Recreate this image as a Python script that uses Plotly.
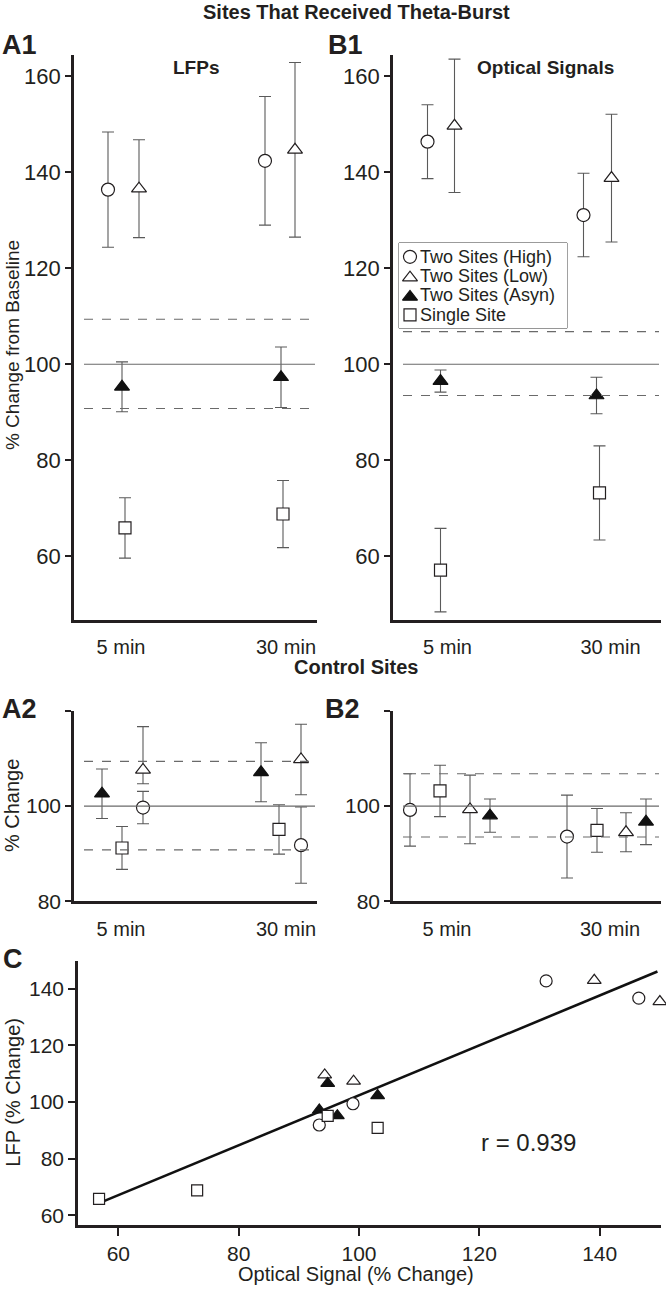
import plotly.graph_objects as go

# ---------------- data ----------------
times = ["5 min", "30 min"]
groups = ["Two Sites (High)", "Two Sites (Low)", "Two Sites (Asyn)", "Single Site"]

# A1: LFPs, sites that received theta-burst (mean, +/- error)
a1_high = [136.4, 142.4]
a1_high_err = [12.0, 13.4]
a1_low = [136.6, 144.7]
a1_low_err = [10.2, 18.2]
a1_asyn = [95.3, 97.3]
a1_asyn_err = [5.2, 6.3]
a1_single = [65.9, 68.8]
a1_single_err = [6.3, 7.0]

# B1: optical signals, sites that received theta-burst
b1_high = [146.4, 131.1]
b1_high_err = [7.7, 8.7]
b1_low = [149.7, 138.8]
b1_low_err = [13.9, 13.3]
b1_asyn = [96.5, 93.5]
b1_asyn_err = [2.3, 3.8]
b1_single = [57.1, 73.2]
b1_single_err = [8.7, 9.8]

# A2: LFPs, control sites
a2_high = [99.7, 91.8]
a2_high_err = [3.4, 8.0]
a2_low = [107.6, 109.8]
a2_low_err_up = [9.1, 7.4]
a2_low_err_down = [2.9, 7.4]
a2_asyn = [102.6, 107.1]
a2_asyn_err = [5.2, 6.2]
a2_single = [91.2, 95.1]
a2_single_err = [4.5, 5.2]

# B2: optical signals, control sites
b2_high = [99.2, 93.6]
b2_high_err = [7.6, 8.7]
b2_low = [99.3, 94.5]
b2_low_err = [7.2, 4.1]
b2_asyn = [98.0, 96.7]
b2_asyn_err = [3.5, 4.8]
b2_single = [103.2, 94.9]
b2_single_err = [5.4, 4.6]

baseline = 100
lfp_limits = [90.8, 109.4]
opt_limits = [93.5, 106.8]

# C: LFP vs optical signal
c_high_opt = [146.5, 131.1, 99.0, 93.4]
c_high_lfp = [136.7, 142.8, 99.4, 91.9]
c_low_opt = [150.0, 139.1, 99.1, 94.3]
c_low_lfp = [135.5, 143.0, 107.4, 109.6]
c_asyn_opt = [96.4, 93.4, 103.1, 94.8]
c_asyn_lfp = [95.2, 97.2, 102.3, 106.6]
c_single_opt = [56.8, 73.1, 103.1, 94.8]
c_single_lfp = [65.8, 68.8, 90.9, 95.1]
fit_opt = [56.8, 149.6]
fit_lfp = [64.3, 146.1]
r_value = 0.939

# ---------------- styling / layout ----------------
W, H = 666, 1297
INK = "#231f20"
ERR = "#5a5a5a"
FONT = "Liberation Sans, Arial, sans-serif"


def px(x):
    return x / W


def py(y):
    return 1 - y / H


styles = {
    "high": dict(symbol="circle", size=13, color="white", line=dict(color=INK, width=1.2)),
    "low": dict(symbol="triangle-up", size=13, color="white", line=dict(color=INK, width=1.2)),
    "asyn": dict(symbol="triangle-up", size=13, color="#111111", line=dict(color="#111111", width=1.2)),
    "single": dict(symbol="square", size=12, color="white", line=dict(color=INK, width=1.2)),
}
keys = ["high", "low", "asyn", "single"]
names = dict(zip(keys, groups))

# panel geometry in pixels: axis left/right/top/bottom, label centres
panels = {
    "A1": dict(ax="", L=74, R=317, T=55, B=625, c5=121, c30=286, yr=[46.78, 164.55],
               yt=[60, 80, 100, 120, 140, 160], ytxt=None, lim=lfp_limits, tf=22,
               off=dict(high=[-13, -21], low=[18, 9], asyn=[1, -5], single=[4, -3])),
    "B1": dict(ax="2", L=393, R=661, T=55, B=625, c5=447.5, c30=610.5, yr=[46.78, 164.55],
               yt=[60, 80, 100, 120, 140, 160], ytxt=None, lim=opt_limits, tf=22,
               off=dict(high=[-20, -27], low=[7, 1], asyn=[-7, -14], single=[-7, -11])),
    "A2": dict(ax="3", L=74, R=317, T=717, B=909, c5=121, c30=286, yr=[80, 120],
               yt=[80, 100, 120], ytxt=["80", "100", ""], lim=lfp_limits, tf=21,
               off=dict(high=[22, 15], low=[22, 15], asyn=[-19, -25], single=[1, -7])),
    "B2": dict(ax="4", L=393, R=661, T=717, B=909, c5=447, c30=610, yr=[80, 120],
               yt=[80, 100, 120], ytxt=["80", "100", ""], lim=opt_limits, tf=21,
               off=dict(high=[-37, -43], low=[23, 16], asyn=[43, 36], single=[-7, -13])),
}

series = {
    "A1": dict(high=(a1_high, a1_high_err, None), low=(a1_low, a1_low_err, None),
               asyn=(a1_asyn, a1_asyn_err, None), single=(a1_single, a1_single_err, None)),
    "B1": dict(high=(b1_high, b1_high_err, None), low=(b1_low, b1_low_err, None),
               asyn=(b1_asyn, b1_asyn_err, None), single=(b1_single, b1_single_err, None)),
    "A2": dict(high=(a2_high, a2_high_err, None), low=(a2_low, a2_low_err_up, a2_low_err_down),
               asyn=(a2_asyn, a2_asyn_err, None), single=(a2_single, a2_single_err, None)),
    "B2": dict(high=(b2_high, b2_high_err, None), low=(b2_low, b2_low_err, None),
               asyn=(b2_asyn, b2_asyn_err, None), single=(b2_single, b2_single_err, None)),
}

fig = go.Figure()
layout = dict(
    width=W, height=H, margin=dict(l=0, r=0, t=0, b=0),
    paper_bgcolor="white", plot_bgcolor="white",
    font=dict(family=FONT, color=INK, size=20),
    showlegend=False,
)
shapes = []

for pname, p in panels.items():
    unit = p["c30"] - p["c5"]
    xr = [(p["L"] - p["c5"]) / unit, (p["R"] - p["c5"]) / unit]
    xa, ya = "x" + p["ax"], "y" + p["ax"]
    layout["xaxis" + p["ax"]] = dict(
        domain=[px(p["L"]), px(p["R"])], range=xr, anchor=ya,
        tickvals=[0, 1], ticktext=times, ticks="", showline=True, linewidth=2.6,
        linecolor=INK, showgrid=False, zeroline=False, fixedrange=True,
        tickfont=dict(size=20, family=FONT, color=INK), ticklabelstandoff=8)
    layout["yaxis" + p["ax"]] = dict(
        domain=[py(p["B"]), py(p["T"])], range=p["yr"], anchor=xa,
        tickvals=p["yt"], ticktext=p["ytxt"] if p["ytxt"] else [str(v) for v in p["yt"]],
        ticks="outside", ticklen=6, tickwidth=2, tickcolor=INK,
        showline=True, linewidth=2.6, linecolor=INK, showgrid=False, zeroline=False,
        fixedrange=True, tickfont=dict(size=p["tf"], family=FONT, color=INK))
    # baseline and limits
    wpx = p["R"] - p["L"]
    x0d, x1d = 10 / wpx, (wpx - 2) / wpx
    shapes.append(dict(type="line", xref=xa + " domain", yref=ya, x0=x0d, x1=x1d,
                       y0=baseline, y1=baseline, line=dict(color="#6a6a6a", width=1.1)))
    for lv in p["lim"]:
        shapes.append(dict(type="line", xref=xa + " domain", yref=ya, x0=x0d, x1=x1d,
                           y0=lv, y1=lv, line=dict(color="#6a6a6a", width=1.1, dash="9px,9px")))
    for key in keys:
        mean, eup, edown = series[pname][key]
        xs = [i + o / unit for i, o in enumerate(p["off"][key])]
        if edown is None:
            err = dict(type="data", array=eup, symmetric=True, color=ERR, thickness=1.1, width=6)
        else:
            err = dict(type="data", array=eup, arrayminus=edown, symmetric=False,
                       color=ERR, thickness=1.1, width=6)
        fig.add_trace(go.Scatter(
            x=xs, y=mean, mode="markers", marker=styles[key], error_y=err,
            name=names[key], xaxis=xa, yaxis=ya, hoverinfo="skip"))

# ---- panel C ----
layout["xaxis5"] = dict(
    domain=[px(78), px(661.3)], range=[53.3, 150.24], anchor="y5",
    tickvals=[60, 80, 100, 120, 140], ticks="outside", ticklen=8, tickwidth=2,
    tickcolor=INK, showline=True, linewidth=2.6, linecolor=INK, showgrid=False,
    zeroline=False, fixedrange=True, tickfont=dict(size=21, family=FONT, color=INK),
    ticklabelstandoff=0)
layout["yaxis5"] = dict(
    domain=[py(1235.7), py(969.3)], range=[56.5, 149.8], anchor="x5",
    tickvals=[60, 80, 100, 120, 140], ticks="outside", ticklen=7, tickwidth=2,
    tickcolor=INK, showline=True, linewidth=2.6, linecolor=INK, showgrid=False,
    zeroline=False, fixedrange=True, tickfont=dict(size=21, family=FONT, color=INK))

fig.add_trace(go.Scatter(x=fit_opt, y=fit_lfp, mode="lines",
                         line=dict(color="#111111", width=2.6),
                         xaxis="x5", yaxis="y5", hoverinfo="skip"))
for key, xo, yl in [("high", c_high_opt, c_high_lfp), ("low", c_low_opt, c_low_lfp),
                    ("asyn", c_asyn_opt, c_asyn_lfp), ("single", c_single_opt, c_single_lfp)]:
    st = dict(styles[key])
    st["size"] = st["size"] - 1
    fig.add_trace(go.Scatter(x=xo, y=yl, mode="markers", marker=st,
                             xaxis="x5", yaxis="y5", hoverinfo="skip", cliponaxis=False))

# ---- custom legend box (inside B1) ----
LG = dict(L=399, R=567, T=245, B=331)
layout["xaxis6"] = dict(domain=[px(LG["L"]), px(LG["R"])], range=[0, LG["R"] - LG["L"]],
                        anchor="y6", visible=False, fixedrange=True)
layout["yaxis6"] = dict(domain=[py(LG["B"]), py(LG["T"])], range=[LG["B"] - LG["T"], 0],
                        anchor="x6", visible=False, fixedrange=True)
legend_rows = [14, 33.5, 53, 72.5]
shapes.append(dict(type="rect", xref="paper", yref="paper", x0=px(LG["L"]), x1=px(LG["R"]),
                   y0=py(LG["B"]), y1=py(LG["T"]), fillcolor="white",
                   line=dict(color="#444444", width=1), layer="below"))
for key, ry in zip(keys, legend_rows):
    fig.add_trace(go.Scatter(x=[11], y=[ry + (1.5 if key in ("low", "asyn") else 0)],
                             mode="markers", marker=styles[key],
                             xaxis="x6", yaxis="y6", hoverinfo="skip", cliponaxis=False))

# ---- text annotations ----
ann = []


def text(s, x, y, size, bold=False, angle=0, xanchor="center", yanchor="middle"):
    ann.append(dict(text=("<b>%s</b>" % s) if bold else s, x=px(x), y=py(y),
                    xref="paper", yref="paper", showarrow=False, textangle=angle,
                    xanchor=xanchor, yanchor=yanchor,
                    font=dict(size=size, family=FONT, color=INK)))


for g, ry in zip(groups, legend_rows):
    text(g, LG["L"] + 19, LG["T"] + ry, 18, xanchor="left")

text("Sites That Received Theta-Burst", 356, 12, 20, bold=True)
text("Control Sites", 356, 673, 20, bold=True)
text("LFPs", 196, 68, 19, bold=True)
text("Optical Signals", 545, 68, 19, bold=True)
text("A1", 0, 45, 27, bold=True, xanchor="left")
text("B1", 326, 45, 27, bold=True, xanchor="left")
text("A2", 0, 715, 27, bold=True, xanchor="left")
text("B2", 323, 715, 27, bold=True, xanchor="left")
text("C", 1, 967, 27, bold=True, xanchor="left")
text("% Change from Baseline", 12, 348, 19, angle=-90)
text("% Change", 12, 813, 20, angle=-90)
text("LFP (% Change)", 13, 1102, 20, angle=-90)
text("Optical Signal (% Change)", 356, 1285, 20)
text("r = %.3f" % r_value, 528, 1152, 24)

layout["annotations"] = ann
layout["shapes"] = shapes
fig.update_layout(**layout)

fig.write_html("out.html", config={"displayModeBar": False},
               post_script="document.body.style.margin='0';")
